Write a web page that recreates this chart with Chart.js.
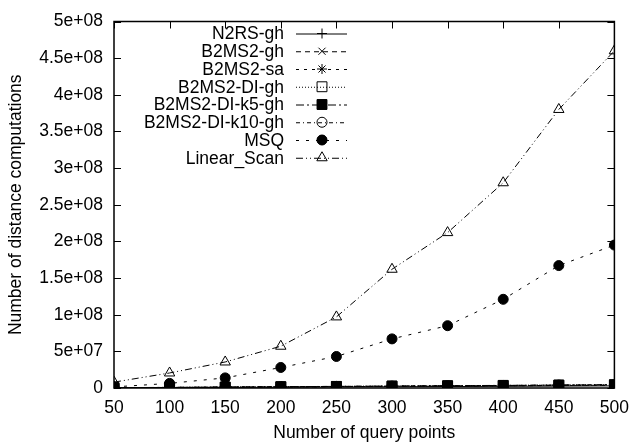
<!DOCTYPE html>
<html lang="en">
<head>
<meta charset="UTF-8">
<title>Distance computations</title>
<script src="https://cdn.jsdelivr.net/npm/chart.js"></script>
<style>
  html, body { margin: 0; padding: 0; background: #fff; }
  #wrap { width: 639px; height: 447px; }
</style>
</head>
<body>
<div id="wrap"><canvas id="chart" width="639" height="447"></canvas></div>
<script>
// data
const queryPoints = [50, 100, 150, 200, 250, 300, 350, 400, 450, 500];
const yTickLabels = ['0', '5e+07', '1e+08', '1.5e+08', '2e+08', '2.5e+08', '3e+08', '3.5e+08', '4e+08', '4.5e+08', '5e+08'];

const n2rsGh      = [0.2e6, 0.5e6, 0.8e6, 1.1e6, 1.4e6, 1.7e6, 2.0e6, 2.3e6, 2.6e6, 2.9e6];
const b2ms2Gh     = [0.3e6, 0.7e6, 1.1e6, 1.5e6, 1.9e6, 2.3e6, 2.7e6, 3.1e6, 3.5e6, 3.9e6];
const b2ms2Sa     = [0.3e6, 0.7e6, 1.0e6, 1.4e6, 1.8e6, 2.2e6, 2.6e6, 3.0e6, 3.4e6, 3.8e6];
const b2ms2DiGh   = [0.4e6, 0.8e6, 1.2e6, 1.7e6, 2.1e6, 2.5e6, 3.0e6, 3.4e6, 3.9e6, 4.3e6];
const b2ms2DiK5   = [0.4e6, 0.9e6, 1.3e6, 1.8e6, 2.2e6, 2.7e6, 3.1e6, 3.6e6, 4.0e6, 4.5e6];
const b2ms2DiK10  = [0.4e6, 0.8e6, 1.3e6, 1.7e6, 2.2e6, 2.6e6, 3.1e6, 3.5e6, 4.0e6, 4.4e6];
const msq         = [1.5e6, 6.3e6, 1.38e7, 2.8e7, 4.3e7, 6.7e7, 8.5e7, 1.21e8, 1.67e8, 1.95e8];
const linearScan  = [8e6, 2.05e7, 3.55e7, 5.7e7, 9.7e7, 1.62e8, 2.12e8, 2.80e8, 3.80e8, 4.60e8];

const FONT = '"Liberation Sans", Arial, sans-serif';
const FSIZE = 17.5;

function series(label, values, pointStyle, filled, dash, order) {
    // chart.js draws rect and triangle smaller than their radius
    const radius = pointStyle === 'rect' ? 7 : (pointStyle === 'triangle' ? 6 : 5);
    return {
        label: label,
        data: values.map((v, i) => ({ x: queryPoints[i], y: v })),
        borderColor: '#000',
        backgroundColor: filled ? '#000' : '#fff',
        borderWidth: 1,
        borderDash: dash,
        pointStyle: pointStyle,
        pointRadius: radius,
        pointBorderWidth: 1,
        pointBackgroundColor: filled ? '#000' : 'rgba(0,0,0,0)',
        pointBorderColor: '#000',
        tension: 0,
        order: order
    };
}

// later series drawn on top, like gnuplot
const datasets = [
    series('N2RS-gh', n2rsGh, 'cross', false, [], 8),
    series('B2MS2-gh', b2ms2Gh, 'crossRot', false, [5, 4], 7),
    series('B2MS2-sa', b2ms2Sa, 'star', false, [3, 5], 6),
    series('B2MS2-DI-gh', b2ms2DiGh, 'rect', false, [1, 2], 5),
    series('B2MS2-DI-k10-gh', b2ms2DiK10, 'circle', false, [4, 3, 1, 3], 4),
    series('B2MS2-DI-k5-gh', b2ms2DiK5, 'rect', true, [8, 3, 2, 3], 3),
    series('MSQ', msq, 'circle', true, [3, 7], 2),
    series('Linear_Scan', linearScan, 'triangle', false, [7, 3, 1, 3, 1, 3], 1)
];
const legendOrder = ['N2RS-gh', 'B2MS2-gh', 'B2MS2-sa', 'B2MS2-DI-gh', 'B2MS2-DI-k5-gh', 'B2MS2-DI-k10-gh', 'MSQ', 'Linear_Scan'];

// gnuplot style frame with ticks pointing inward, and the key
const framePlugin = {
    id: 'frame',
    afterDraw(chart) {
        const ctx = chart.ctx, a = chart.chartArea;
        const xs = chart.scales.x, ys = chart.scales.y;
        ctx.save();
        ctx.strokeStyle = '#000';
        ctx.lineWidth = 1.5;
        ctx.strokeRect(a.left, a.top, a.right - a.left, a.bottom - a.top);
        ctx.lineWidth = 1;
        ctx.beginPath();
        xs.ticks.forEach(t => {
            const px = Math.round(xs.getPixelForValue(t.value)) + 0.5;
            ctx.moveTo(px, a.bottom); ctx.lineTo(px, a.bottom - 7);
            ctx.moveTo(px, a.top); ctx.lineTo(px, a.top + 7);
        });
        ys.ticks.forEach(t => {
            const py = Math.round(ys.getPixelForValue(t.value)) + 0.5;
            ctx.moveTo(a.left, py); ctx.lineTo(a.left + 7, py);
            ctx.moveTo(a.right, py); ctx.lineTo(a.right - 7, py);
        });
        ctx.stroke();

        ctx.font = FSIZE + 'px ' + FONT;
        ctx.textAlign = 'right';
        ctx.textBaseline = 'middle';
        legendOrder.forEach((name, i) => {
            const ds = chart.data.datasets.find(d => d.label === name);
            const y = 33.5 + i * 17.75;
            ctx.fillStyle = '#000';
            ctx.fillText(ds.label, 284, y + 1);
            ctx.beginPath();
            ctx.setLineDash(ds.borderDash);
            ctx.moveTo(296, y + 0.5); ctx.lineTo(347, y + 0.5);
            ctx.stroke();
            ctx.setLineDash([]);
            ctx.fillStyle = ds.pointBackgroundColor;
            Chart.helpers.drawPoint(ctx, {
                pointStyle: ds.pointStyle, radius: ds.pointRadius,
                borderWidth: 1, rotation: 0
            }, 322, y);
            if (ds.pointBackgroundColor !== 'rgba(0,0,0,0)') ctx.fill();
        });
        ctx.restore();
    }
};

new Chart(document.getElementById('chart'), {
    type: 'line',
    data: { datasets: datasets },
    options: {
        responsive: false,
        animation: false,
        layout: { padding: { top: 16, right: 18, left: 0, bottom: 3 } },
        plugins: { legend: { display: false }, tooltip: { enabled: false } },
        scales: {
            x: {
                type: 'linear',
                min: 50, max: 500,
                grid: { display: false, drawTicks: false },
                border: { display: false },
                ticks: {
                    stepSize: 50, padding: 10, color: '#000',
                    font: { family: FONT, size: FSIZE }
                },
                title: {
                    display: true, text: 'Number of query points', color: '#000',
                    font: { family: FONT, size: FSIZE },
                    padding: { top: 4, bottom: 0 }
                },
                afterFit(s) { s.height = 56; }
            },
            y: {
                min: 0, max: 5e8,
                grid: { display: false, drawTicks: false },
                border: { display: false },
                ticks: {
                    stepSize: 5e7, padding: 11, color: '#000',
                    font: { family: FONT, size: FSIZE },
                    callback: (v) => yTickLabels[Math.round(v / 5e7)]
                },
                title: {
                    display: true, text: 'Number of distance computations', color: '#000',
                    font: { family: FONT, size: FSIZE },
                    padding: { top: 6, bottom: 6 }
                },
                afterFit(s) { s.width = 114; }
            }
        }
    },
    plugins: [framePlugin]
});
</script>
</body>
</html>
